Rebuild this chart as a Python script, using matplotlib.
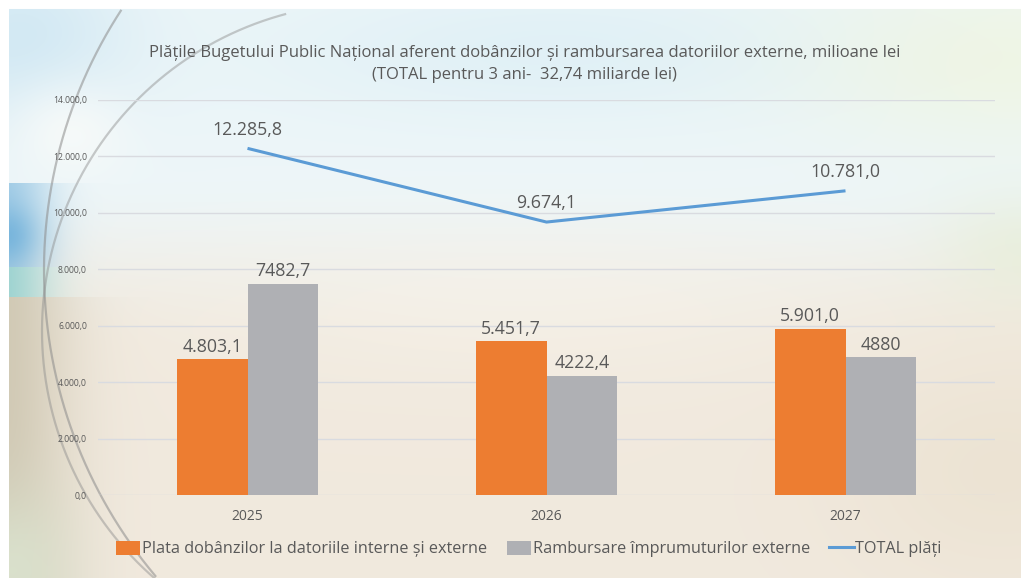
import numpy as np
import matplotlib.pyplot as plt
from matplotlib.patches import Patch
from matplotlib.lines import Line2D

# ---- data -------------------------------------------------------------
years = ["2025", "2026", "2027"]
plata_dobanzi = [4803.1, 5451.7, 5901.0]
rambursare = [7482.7, 4222.4, 4880.0]
total_plati = [12285.8, 9674.1, 10781.0]
y_ticks = [0, 2000, 4000, 6000, 8000, 10000, 12000, 14000]

title_text = ("Plățile Bugetului Public Național aferent dobânzilor și rambursarea "
              "datoriilor externe, milioane lei\n(TOTAL pentru 3 ani-  32,74 miliarde lei)")
legend_labels = ["Plata dobânzilor la datoriile interne și externe",
                 "Rambursare împrumuturilor externe",
                 "TOTAL plăți"]

ORANGE = "#ed7d31"
GREY = "#afb0b4"
BLUE = "#5b9bd5"
TEXT = "#595959"

plt.rcParams["font.family"] = ["Open Sans", "DejaVu Sans"]


def ro_thousands(v):
    s = f"{v:,.1f}"
    return s.replace(",", "X").replace(".", ",").replace("X", ".")


def ro_plain(v):
    if float(v).is_integer():
        return str(int(v))
    return f"{v:.1f}".replace(".", ",")


W, H = 1021, 578
fig = plt.figure(figsize=(W / 100, H / 100), dpi=100)

# ---- decorative backdrop ----------------------------------------------
yy, xx = np.mgrid[0:H, 0:W].astype(float)
top_c = np.array([0.93, 0.965, 0.975])
bot_c = np.array([0.945, 0.915, 0.87])
t = np.clip((yy - 170) / 180.0, 0, 1)
t = t * t * (3 - 2 * t)
img = top_c * (1 - t[..., None]) + bot_c * t[..., None]


def blend(img, color, w):
    w = np.clip(w, 0, 1)[..., None]
    return img * (1 - w) + np.array(color) * w


def blob(cx, cy, sx, sy):
    return np.exp(-(((xx - cx) / sx) ** 2 + ((yy - cy) / sy) ** 2))


img = blend(img, (0.80, 0.90, 0.95), 0.8 * blob(20, 40, 110, 90))
img = blend(img, (0.99, 0.99, 0.98), 0.7 * blob(70, 130, 60, 50))
img = blend(img, (0.85, 0.93, 0.96), 0.6 * blob(560, 50, 300, 70))
img = blend(img, (0.94, 0.96, 0.87), 0.7 * blob(1000, 60, 200, 90))
img = blend(img, (0.90, 0.93, 0.83), 0.6 * blob(1021, 250, 90, 60))
img = blend(img, (0.91, 0.87, 0.79), 0.5 * blob(1000, 470, 160, 120))
img = blend(img, (0.97, 0.96, 0.93), 0.5 * blob(520, 300, 350, 80))

xfall = np.exp(-(xx / 50.0) ** 2)
band_blue = ((yy >= 183) & (yy < 267)).astype(float)
img = blend(img, (0.45, 0.70, 0.86), band_blue * xfall * (0.6 + 0.4 * blob(20, 235, 40, 30)))
band_teal = ((yy >= 267) & (yy < 297)).astype(float)
img = blend(img, (0.62, 0.83, 0.82), band_teal * xfall)
band_tan = (yy >= 297).astype(float)
img = blend(img, (0.82, 0.79, 0.71), band_tan * np.exp(-(xx / 70.0) ** 2))
img = blend(img, (0.86, 0.90, 0.82), 0.8 * blob(10, 570, 60, 80))

# white margin on the top and left edges
img[:9, :] = 1.0
img[:, :9] = 1.0

bg = fig.add_axes([0, 0, 1, 1], zorder=-10)
bg.imshow(img, extent=(0, W, H, 0), aspect="auto", interpolation="bilinear")
bg.set_xlim(0, W)
bg.set_ylim(H, 0)
bg.axis("off")

# sweeping arcs
for (cx, cy, r, a0, a1, alpha) in [(520, 270, 476, 140, 213, 0.55),
                                   (370, 331, 328, 105, 255, 0.45)]:
    th = np.radians(np.linspace(a0, a1, 300))
    px = cx + r * np.cos(th)
    py = cy + r * np.sin(th)
    keep = (px > 9) & (py > 9)
    bg.plot(px[keep], py[keep], color=(0.55, 0.55, 0.55), lw=1.6, alpha=alpha)

# ---- chart ------------------------------------------------------------
ax = fig.add_axes([98 / W, 1 - 495 / H, 897 / W, 395 / H])
ax.patch.set_alpha(0)

x = np.arange(len(years))
bw = 0.237
ax.bar(x - bw / 2, plata_dobanzi, bw, color=ORANGE, zorder=3)
ax.bar(x + bw / 2, rambursare, bw, color=GREY, zorder=3)
ax.plot(x, total_plati, color=BLUE, lw=2.2, zorder=4, solid_capstyle="butt")

for xi, v in zip(x, plata_dobanzi):
    ax.annotate(ro_thousands(v), (xi - bw / 2, v), xytext=(0, 9), textcoords="offset points",
                ha="center", va="center", fontsize=12.8, color=TEXT)
for xi, v in zip(x, rambursare):
    ax.annotate(ro_plain(v), (xi + bw / 2, v), xytext=(0, 9), textcoords="offset points",
                ha="center", va="center", fontsize=12.8, color=TEXT)
for xi, v in zip(x, total_plati):
    ax.annotate(ro_thousands(v), (xi, v), xytext=(0, 13.5), textcoords="offset points",
                ha="center", va="center", fontsize=12.8, color=TEXT)

ax.set_xlim(-0.5, 2.5)
ax.set_ylim(0, 14000)
ax.set_yticks(y_ticks)
ax.set_yticklabels([ro_thousands(v) for v in y_ticks], fontsize=6.2, color=TEXT)
ax.set_xticks(x)
ax.set_xticklabels(years, fontsize=10, color=TEXT)
ax.tick_params(axis="both", length=0)
ax.tick_params(axis="x", pad=10)
ax.tick_params(axis="y", pad=8)
ax.grid(axis="y", color="#d9dbe0", lw=1, zorder=0)
for s in ax.spines.values():
    s.set_visible(False)

fig.text(0.514, 1 - 64 / H, title_text, ha="center", va="center", fontsize=12.0,
         color=TEXT, linespacing=1.5)

handles = [Patch(facecolor=ORANGE), Patch(facecolor=GREY), Line2D([], [], color=BLUE, lw=2.2)]
fig.legend(handles, legend_labels, loc="center", bbox_to_anchor=(0.518, 1 - 549 / H),
           ncol=3, frameon=False, fontsize=11.7, handlelength=1.5, handleheight=1.0,
           handletextpad=0.1, columnspacing=1.2, labelcolor=TEXT)

fig.savefig("out.png", dpi=100)
